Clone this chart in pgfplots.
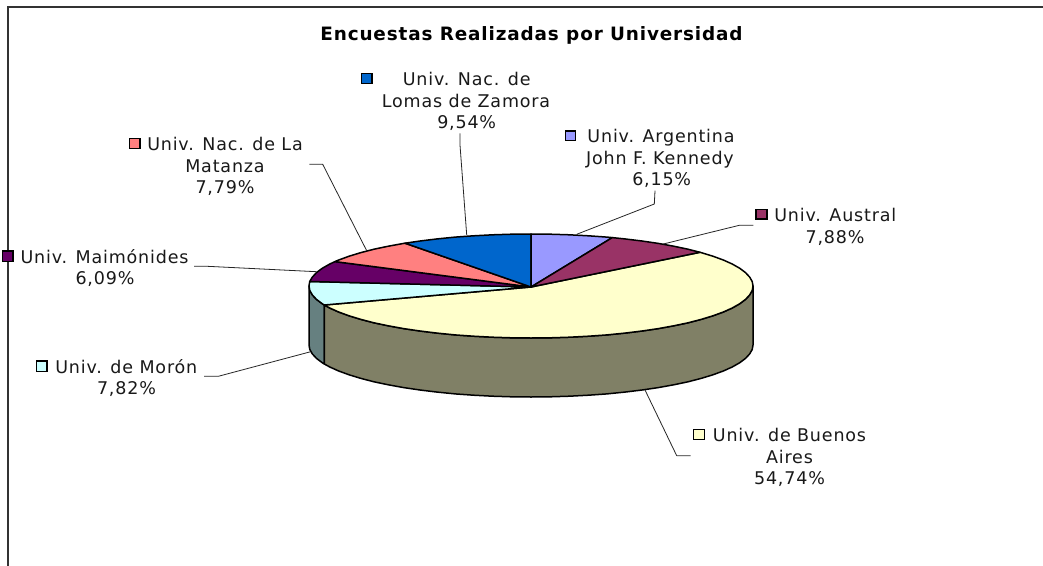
\documentclass[border=0pt]{standalone}
\usepackage{pgfplots}
\pgfplotsset{compat=1.18}
\usepackage{fontspec}
\setmainfont[LetterSpace=4.7]{DejaVu Sans}
\definecolor{cKen}{HTML}{9999FF}
\definecolor{cAus}{HTML}{993366}
\definecolor{cBue}{HTML}{FFFFCC}
\definecolor{cMor}{HTML}{CCFFFF}
\definecolor{cMai}{HTML}{660066}
\definecolor{cMat}{HTML}{FF8080}
\definecolor{cLom}{HTML}{0066CC}
\definecolor{cBueS}{HTML}{808066}
\definecolor{cMorS}{HTML}{668080}
\newcommand{\lab}[3]{\node[anchor=base,inner sep=0pt,text=black!90,font=\fontsize{17.5}{19}\selectfont] at (axis cs:#1,#2) {#3};}
\pgfplotsset{
  slice/.style={draw=black,line width=1.5pt,line join=round,fill=#1},
  leader/.style={draw=black!85,line width=0.8pt,line join=round},
  key/.style={draw=black,line width=1.3pt,fill=#1},
}
\begin{document}
\begin{tikzpicture}
\begin{axis}[
  scale only axis,width=1043pt,height=565pt,
  xmin=0,xmax=1043,ymin=0,ymax=565,y dir=reverse,
  hide axis,no markers,clip=true]
% page background
\addplot[draw=none,fill=white] coordinates {(0,0)(1043,0)(1043,565)(0,565)} --cycle;
% chart border
\addplot[draw=black!80,line width=1.1pt] coordinates {(8,566)(8,7)(1044,7)};
% side walls
\addplot[slice=cMorS] coordinates {(309,286)(309.8,290.5)(312.4,295)(316.6,299.5)(322.4,303.8)(324.3,305)(324.3,364)(322.4,362.8)(316.6,358.5)(312.4,354)(309.8,349.5)(309,345)} --cycle;
\addplot[slice=cBueS] coordinates {(324.3,305)(329.8,308)(338.7,312)(349.1,315.8)(360.9,319.4)(374,322.8)(388.3,325.8)(403.7,328.6)(420,331)(437.2,333.1)(455.1,334.9)(473.5,336.2)(492.5,337.2)(511.6,337.8)(531,338)(550.4,337.8)(569.5,337.2)(588.5,336.2)(606.9,334.9)(624.8,333.1)(642,331)(658.3,328.6)(673.7,325.8)(688,322.8)(701.1,319.4)(712.9,315.8)(723.3,312)(732.2,308)(739.6,303.8)(745.4,299.5)(749.6,295)(752.2,290.5)(753,286)
 (753,345)(752.2,349.5)(749.6,354)(745.4,358.5)(739.6,362.8)(732.2,367)(723.3,371)(712.9,374.8)(701.1,378.4)(688,381.8)(673.7,384.8)(658.3,387.6)(642,390)(624.8,392.1)(606.9,393.9)(588.5,395.2)(569.5,396.2)(550.4,396.8)(531,397)(511.6,396.8)(492.5,396.2)(473.5,395.2)(455.1,393.9)(437.2,392.1)(420,390)(403.7,387.6)(388.3,384.8)(374,381.8)(360.9,378.4)(349.1,374.8)(338.7,371)(329.8,367)(324.3,364)} --cycle;
% top slices
\addplot[slice=cBue] coordinates {(531,287)(700,252.3)(701.1,252.6)(712.9,256.2)(723.3,260)(732.2,264)(739.6,268.2)(745.4,272.5)(749.6,277)(752.2,281.5)(753,286)(752.2,290.5)(749.6,295)(745.4,299.5)(739.6,303.8)(732.2,308)(723.3,312)(712.9,315.8)(701.1,319.4)(688,322.8)(673.7,325.8)(658.3,328.6)(642,331)(624.8,333.1)(606.9,334.9)(588.5,336.2)(569.5,337.2)(550.4,337.8)(531,338)(511.6,337.8)(492.5,337.2)(473.5,336.2)(455.1,334.9)(437.2,333.1)(420,331)(403.7,328.6)(388.3,325.8)(374,322.8)(360.9,319.4)(349.1,315.8)(338.7,312)(329.8,308)(324.3,305)} --cycle;
\addplot[slice=cMor] coordinates {(531,287)(324.3,305)(322.4,303.8)(316.6,299.5)(312.4,295)(309.8,290.5)(309,286)(309.7,281.5)} --cycle;
\addplot[slice=cMai] coordinates {(531,287)(309.7,281.5)(312.4,277)(316.6,272.5)(322.4,268.2)(329.8,264)(335,261.6)} --cycle;
\addplot[slice=cMat] coordinates {(531,287)(335,261.6)(338.7,260)(349.1,256.2)(360.9,252.6)(374,249.2)(388.3,246.2)(403.7,243.4)(405,243.2)} --cycle;
\addplot[slice=cLom] coordinates {(531,287)(405,243.2)(420,241)(437.2,238.9)(455.1,237.1)(473.5,235.8)(492.5,234.8)(511.6,234.2)(531,234)} --cycle;
\addplot[slice=cKen] coordinates {(531,287)(531,234)(550.4,234.2)(569.5,234.8)(588.5,235.8)(606.9,237.1)(612.3,237.6)} --cycle;
\addplot[slice=cAus] coordinates {(531,287)(612.3,237.6)(624.8,238.9)(642,241)(658.3,243.4)(673.7,246.2)(688,249.2)(700,252.3)} --cycle;
% leader lines
\addplot[leader] coordinates {(655,190.7)(654.3,204)(576.7,234.3)};
\addplot[leader] coordinates {(753.3,225.3)(739.3,225.3)(663.3,244)};
\addplot[leader] coordinates {(460,133.3)(460,145)(466.7,235)};
\addplot[leader] coordinates {(309.3,164.3)(322.7,164.3)(366.7,250.7)};
\addplot[leader] coordinates {(194,266.3)(207.3,266.3)(316.7,271.7)};
\addplot[leader] coordinates {(204,376.3)(218.3,376.3)(310.7,351.7)};
\addplot[leader] coordinates {(645,390)(676.7,455.7)(690.7,455.7)};
% label keys
\addplot[key=cLom] coordinates {(361.5,73.5)(372,73.5)(372,83.3)(361.5,83.3)} --cycle;
\addplot[key=cKen] coordinates {(565.5,131)(575.7,131)(575.7,140.3)(565.5,140.3)} --cycle;
\addplot[key=cAus] coordinates {(756,209.4)(767,209.4)(767,219)(756,219)} --cycle;
\addplot[key=cMat] coordinates {(129.5,138.5)(140,138.5)(140,148.3)(129.5,148.3)} --cycle;
\addplot[key=cMai] coordinates {(2.5,251)(13,251)(13,261.3)(2.5,261.3)} --cycle;
\addplot[key=cMor] coordinates {(36.2,361)(47,361)(47,371.3)(36.2,371.3)} --cycle;
\addplot[key=cBue] coordinates {(693.5,429.5)(704.5,429.5)(704.5,439.3)(693.5,439.3)} --cycle;
% title
\node[anchor=base,inner sep=0pt,font=\fontsize{18.4}{20}\selectfont\bfseries] at (axis cs:531.5,40.2) {Encuestas Realizadas por Universidad};
% labels
\lab{466.7}{85.7}{Univ. Nac. de}
\lab{466}{107.4}{Lomas de Zamora}
\lab{466.7}{128.4}{9,54\%}
\lab{661}{142.7}{Univ. Argentina}
\lab{660}{164.7}{John F. Kennedy}
\lab{661.7}{185.7}{6,15\%}
\lab{835.3}{221}{Univ. Austral}
\lab{835}{243}{7,88\%}
\lab{225}{150.7}{Univ. Nac. de La}
\lab{225}{172.7}{Matanza}
\lab{225}{193.7}{7,79\%}
\lab{104.5}{263.4}{Univ. Maimónides}
\lab{105}{284.7}{6,09\%}
\lab{126.3}{373.4}{Univ. de Morón}
\lab{126.5}{394.7}{7,82\%}
\lab{789.5}{441.7}{Univ. de Buenos}
\lab{789.5}{463.4}{Aires}
\lab{789.5}{484.7}{54,74\%}
\end{axis}
\end{tikzpicture}
\end{document}
